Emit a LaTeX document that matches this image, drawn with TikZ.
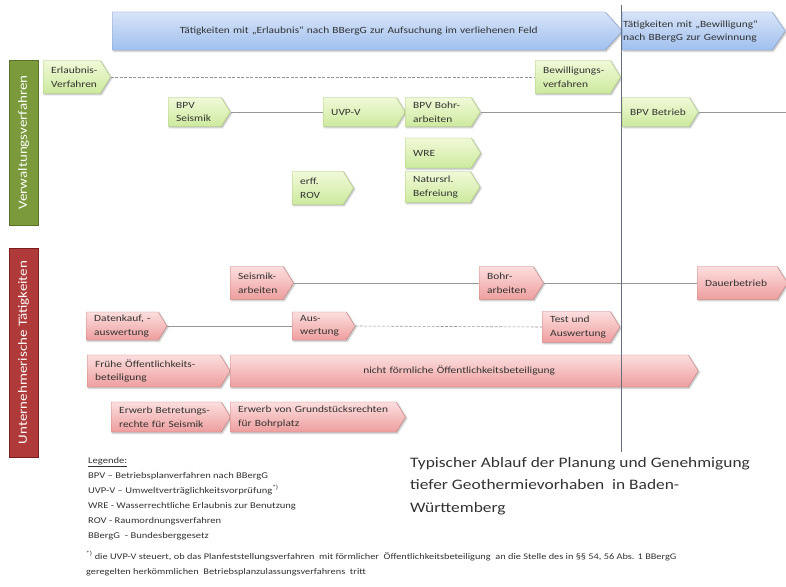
\documentclass[tikz,border=0pt]{standalone}
\usepackage{fontspec}
\setmainfont{Carlito}[FakeStretch=1.2]
\usetikzlibrary{shapes.symbols}
\usetikzlibrary{shadows.blur}

\definecolor{gtop}{RGB}{241,249,216}
\definecolor{gbot}{RGB}{204,234,158}
\definecolor{gline}{RGB}{170,204,120}
\definecolor{rtop}{RGB}{252,222,222}
\definecolor{rbot}{RGB}{238,158,158}
\definecolor{rline}{RGB}{204,128,128}
\definecolor{btop}{RGB}{216,228,248}
\definecolor{bbot}{RGB}{160,192,238}
\definecolor{bline}{RGB}{128,160,208}
\definecolor{glab}{RGB}{122,154,60}
\definecolor{glabline}{RGB}{90,115,40}
\definecolor{rlab}{RGB}{176,58,58}
\definecolor{rlabline}{RGB}{120,30,30}
\definecolor{txt}{RGB}{50,50,50}
\definecolor{conn}{RGB}{150,150,150}
\definecolor{border}{RGB}{100,110,125}

\begin{document}
\begin{tikzpicture}[x=1pt,y=1pt,yscale=-1,xscale=1,
  phase/.style={signal, signal to=east, signal pointer angle=116, anchor=west,
    inner xsep=8pt, inner ysep=1pt, align=left, text=txt,
    font=\fontsize{9.5}{13.5}\selectfont,
    blur shadow={shadow xshift=1.2pt, shadow yshift=-1.2pt, shadow blur radius=1.5pt, shadow opacity=30}},
  gphase/.style={phase, draw=gline, top color=gtop, bottom color=gbot},
  rphase/.style={phase, draw=rline, top color=rtop, bottom color=rbot},
  bphase/.style={phase, draw=bline, top color=btop, bottom color=bbot, signal pointer angle=96,
    font=\fontsize{9.5}{13}\selectfont},
  sidelab/.style={rotate=90, text=white, font=\fontsize{12.5}{14}\selectfont, inner sep=0pt,
    minimum height=29pt},
  conline/.style={draw=conn, line width=0.6pt},
  condash/.style={conline, dash pattern={on 3pt off 1.5pt}}
]
\useasboundingbox (0,0) rectangle (786,586);

% Banners
\node (bluerl) at (112,31) [bphase, inner xsep=4pt, align=center, text width=485pt, minimum height=38pt] {Tätigkeiten mit „Erlaubnis“ nach BBergG zur Aufsuchung im verliehenen Feld};
\node (blubew) at (622,31) [bphase, signal pointer angle=111, inner xsep=1pt, text width=148pt, minimum height=38pt] {\mbox{Tätigkeiten mit „Bewilligung“}\\\mbox{nach BBergG zur Gewinnung}};

% Side labels
\node (labverw) at (23.5,142.5) [sidelab, draw=glabline, fill=glab, minimum width=165pt] {Verwaltungsverfahren};
\node (labunt) at (23.5,352.5) [sidelab, draw=rlabline, fill=rlab, minimum width=209pt] {Unternehmerische Tätigkeiten};

% Verwaltungsverfahren
\node (erlverf) at (43,77) [gphase, text width=41pt, minimum height=33pt] {\mbox{Erlaubnis-}\\\mbox{Verfahren}};
\node (bewverf) at (535,77) [gphase, text width=59pt, minimum height=33pt] {\mbox{Bewilligungs-}\\\mbox{verfahren}};
\node (bpvseis) at (168,112) [gphase, text width=37pt, minimum height=29pt] {\mbox{BPV}\\\mbox{Seismik}};
\node (uvpv) at (323,112) [gphase, text width=57pt, minimum height=29pt] {\mbox{UVP-V}};
\node (bpvbohr) at (405,112) [gphase, text width=50pt, minimum height=29pt] {\mbox{BPV Bohr-}\\\mbox{arbeiten}};
\node (bpvbetr) at (622,112) [gphase, text width=51pt, minimum height=29pt] {\mbox{BPV Betrieb}};
\node (wre) at (405,153) [gphase, text width=50pt, minimum height=30pt] {\mbox{WRE}};
\node (natbef) at (405,187) [gphase, text width=49pt, minimum height=31pt] {\mbox{Natursrl.}\\\mbox{Befreiung}};
\node (erffrov) at (292,188) [gphase, text width=35pt, minimum height=33pt] {\mbox{erff.}\\\mbox{ROV}};
\coordinate (rend) at (786,112);

% Unternehmerische Taetigkeiten
\node (seisarb) at (230,283) [rphase, text width=37pt, minimum height=33pt] {\mbox{Seismik-}\\\mbox{arbeiten}};
\node (bohrarb) at (479,283) [rphase, text width=38pt, minimum height=33pt] {\mbox{Bohr-}\\\mbox{arbeiten}};
\node (dauer) at (697,283) [rphase, text width=64pt, minimum height=33pt] {\mbox{Dauerbetrieb}};
\node (datenk) at (86,326) [rphase, text width=56pt, minimum height=28pt] {\mbox{Datenkauf, -}\\\mbox{auswertung}};
\node (auswert) at (292,326) [rphase, text width=38pt, minimum height=28pt] {\mbox{Aus-}\\\mbox{wertung}};
\node (testausw) at (542,327) [rphase, text width=52pt, minimum height=31pt] {\mbox{Test und}\\\mbox{Auswertung}};
\node (fruehoeff) at (87,371) [rphase, text width=117pt, minimum height=32pt] {\mbox{Frühe Öffentlichkeits-}\\\mbox{beteiligung}};
\node (nichtoeff) at (230,371) [rphase, align=center, text width=442pt, minimum height=32pt] {nicht förmliche Öffentlichkeitsbeteiligung};
\node (erwseis) at (111,417) [rphase, text width=94pt, minimum height=30pt] {\mbox{Erwerb Betretungs-}\\\mbox{rechte für Seismik}};
\node (erwbohr) at (230,417) [rphase, text width=150pt, minimum height=30pt] {\mbox{Erwerb von Grundstücksrechten}\\\mbox{für Bohrplatz}};

%Straight Lines
\draw [condash] (erlverf.east) -- (bewverf.west);
\draw [conline] (bpvseis.east) -- (uvpv.west);
\draw [conline] (bpvbohr.east) -- (bpvbetr.west);
\draw [conline] (bpvbetr.east) -- (rend);
\draw [conline] (seisarb.east) -- (bohrarb.west);
\draw [conline] (bohrarb.east) -- (dauer.west);
\draw [conline] (datenk.east) -- (auswert.west);
\draw [condash] (auswert.east) -- (testausw.west);

%Straight Lines (phase border)
\coordinate (vtop) at (621,5);
\coordinate (vbot) at (621,452);
\draw [draw=border, line width=0.7pt] (vtop) -- (vbot);

% Text Node
\node (legende) at (88,457) [anchor=north west, align=left, inner sep=0pt, text=txt, font=\fontsize{8.8}{15}\selectfont] {\underline{Legende:}\\
BPV – Betriebsplanverfahren nach BBergG\\
UVP-V – Umweltverträglichkeitsvorprüfung\textsuperscript{*)}\\
WRE - Wasserrechtliche Erlaubnis zur Benutzung\\
ROV - Raumordnungsverfahren\\
BBergG \ - Bundesberggesetz};
% Text Node
\node (titel) at (410,457) [anchor=north west, align=left, inner sep=0pt, text=txt, font=\fontsize{14.5}{22.5}\selectfont] {Typischer Ablauf der Planung und Genehmigung\\
tiefer Geothermievorhaben \ in Baden-\\
Württemberg};
% Text Node
\node (fussnote) at (86,551) [anchor=north west, align=left, inner sep=0pt, text=txt, font=\fontsize{8.6}{15}\selectfont] {\textsuperscript{*)} die UVP-V steuert, ob das Planfeststellungsverfahren \ mit förmlicher \ Öffentlichkeitsbeteiligung \ an die Stelle des in §§ 54, 56 Abs. 1 BBergG\\
geregelten herkömmlichen \ Betriebsplanzulassungsverfahrens \ tritt};

\end{tikzpicture}
\end{document}
